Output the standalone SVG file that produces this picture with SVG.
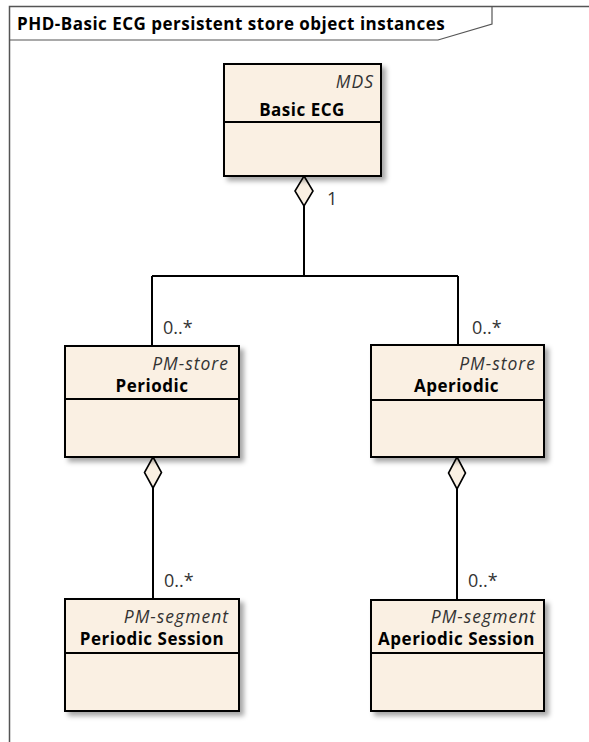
<svg xmlns="http://www.w3.org/2000/svg" width="589" height="742" viewBox="0 0 589 742">
<style>
.box{fill:#FAF0E3;stroke:#000;stroke-width:2}
.div{stroke:#000;stroke-width:2}
.st{font-family:"Open Sans","Liberation Sans",sans-serif;font-size:17.5px;font-style:italic;fill:#333;text-anchor:end;letter-spacing:1px}
.nm{font-family:"Open Sans","Liberation Sans",sans-serif;font-size:17px;font-weight:bold;fill:#000;text-anchor:middle;letter-spacing:0.5px}
.mul{font-family:"Open Sans","Liberation Sans",sans-serif;font-size:18px;fill:#333}
.ln{fill:none;stroke:#000;stroke-width:2}
.dia{fill:#FAF0E3;stroke:#000;stroke-width:1.6}
.title{font-family:"Open Sans","Liberation Sans",sans-serif;font-size:17px;font-weight:bold;fill:#000;letter-spacing:0.5px}
</style>
<defs>
<filter id="sh" x="-10%" y="-10%" width="130%" height="130%">
<feDropShadow dx="4" dy="4" stdDeviation="2.5" flood-color="#000" flood-opacity="0.35"/>
</filter>
</defs>
<rect width="589" height="742" fill="#fff"/>
<g id="frame">
<path d="M9.5 745 V6.5 H592" fill="none" stroke="#555" stroke-width="1.5"/>
<path d="M9.5 40 H438 L492 24 V6.5" fill="none" stroke="#555" stroke-width="1.2"/>
<text class="title" x="17" y="30">PHD-Basic ECG persistent store object instances</text>
</g>
<g id="connectors">
<path class="ln" d="M304 206 V276 M152 276 H458 M152 276 V346 M458 276 V345"/>
<path class="ln" d="M153 488 V599 M457 489 V600"/>
<path class="dia" d="M304 176 L313 191 L304 206 L295 191 Z"/>
<path class="dia" d="M153 457 L161.5 472.5 L153 488 L144.5 472.5 Z"/>
<path class="dia" d="M457 457 L465.5 473 L457 489 L448.5 473 Z"/>
<text class="mul" x="327" y="205">1</text>
<text class="mul" x="163" y="334">0..*</text>
<text class="mul" x="472" y="334">0..*</text>
<text class="mul" x="164" y="587">0..*</text>
<text class="mul" x="468" y="587">0..*</text>
</g>
<g id="basic-ecg">
<rect class="box" x="224" y="64" width="157" height="112" filter="url(#sh)"/>
<line class="div" x1="224" y1="122" x2="381" y2="122"/>
<text class="st" x="374" y="88">MDS</text>
<text class="nm" x="302" y="116">Basic ECG</text>
</g>
<g id="periodic">
<rect class="box" x="65" y="346" width="174" height="111" filter="url(#sh)"/>
<line class="div" x1="65" y1="399" x2="239" y2="399"/>
<text class="st" x="229" y="370">PM-store</text>
<text class="nm" x="152" y="392">Periodic</text>
</g>
<g id="aperiodic">
<rect class="box" x="371" y="345" width="173" height="112" filter="url(#sh)"/>
<line class="div" x1="371" y1="400" x2="544" y2="400"/>
<text class="st" x="536" y="370">PM-store</text>
<text class="nm" x="456.5" y="392">Aperiodic</text>
</g>
<g id="periodic-session">
<rect class="box" x="65" y="599" width="174" height="112" filter="url(#sh)"/>
<line class="div" x1="65" y1="653" x2="239" y2="653"/>
<text class="st" x="229" y="623">PM-segment</text>
<text class="nm" x="152" y="645">Periodic Session</text>
</g>
<g id="aperiodic-session">
<rect class="box" x="371" y="600" width="173" height="111" filter="url(#sh)"/>
<line class="div" x1="371" y1="653" x2="544" y2="653"/>
<text class="st" x="536" y="623">PM-segment</text>
<text class="nm" x="456.5" y="645">Aperiodic Session</text>
</g>
</svg>
